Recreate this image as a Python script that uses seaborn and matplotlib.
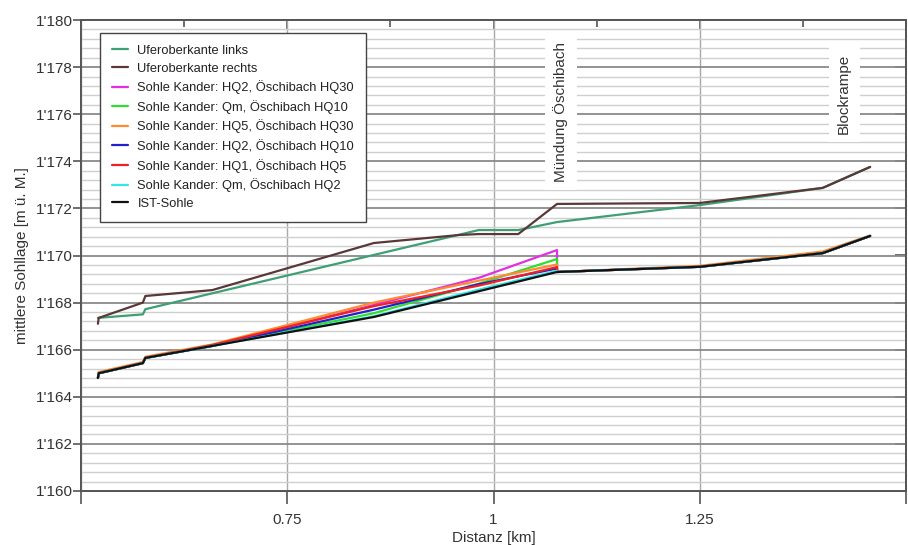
import numpy as np
import pandas as pd
import seaborn as sns
import matplotlib.pyplot as plt
from matplotlib.ticker import FuncFormatter, MultipleLocator, FixedLocator, FixedFormatter, NullFormatter

# Ufer (banks)
x_links = [0.5205, 0.575, 0.578, 0.982, 1.030, 1.077, 1.25, 1.399, 1.4565]
y_links = [1167.35, 1167.5, 1167.72, 1171.08, 1171.08, 1171.42, 1172.14, 1172.87, 1173.76]

x_rechts = [0.5205, 0.5215, 0.575, 0.578, 0.659, 0.855, 0.958, 0.982, 1.030, 1.077, 1.25, 1.399, 1.4565]
y_rechts = [1167.1, 1167.35, 1168.0, 1168.28, 1168.53, 1170.53, 1170.87, 1170.91, 1170.91, 1172.19, 1172.23, 1172.87, 1173.76]

# Sohle (bed), all scenarios on the same stations
x_sohle = [0.5205, 0.5215, 0.575, 0.578, 0.659, 0.855, 0.982, 1.077, 1.077, 1.25, 1.399, 1.4565]
y_hq2_hq30 = [1164.8, 1165.0, 1165.43, 1165.65, 1166.16, 1167.9, 1169.05, 1170.23, 1169.3, 1169.52, 1170.1, 1170.83]
y_qm_hq10 = [1164.8, 1165.0, 1165.43, 1165.65, 1166.16, 1167.55, 1168.8, 1169.85, 1169.3, 1169.52, 1170.1, 1170.83]
y_hq5_hq30 = [1164.85, 1165.05, 1165.48, 1165.7, 1166.22, 1168.0, 1168.93, 1169.62, 1169.3, 1169.56, 1170.17, 1170.85]
y_hq2_hq10 = [1164.8, 1165.0, 1165.43, 1165.65, 1166.16, 1167.7, 1168.78, 1169.45, 1169.3, 1169.52, 1170.1, 1170.83]
y_hq1_hq5 = [1164.8, 1165.0, 1165.43, 1165.65, 1166.2, 1167.85, 1168.72, 1169.51, 1169.3, 1169.52, 1170.1, 1170.83]
y_qm_hq2 = [1164.8, 1165.0, 1165.43, 1165.65, 1166.16, 1167.42, 1168.55, 1169.35, 1169.3, 1169.52, 1170.1, 1170.83]
y_ist = [1164.8, 1165.0, 1165.43, 1165.65, 1166.16, 1167.39, 1168.48, 1169.3, 1169.3, 1169.52, 1170.1, 1170.83]

labels = ["Uferoberkante links", "Uferoberkante rechts",
          "Sohle Kander: HQ2, Öschibach HQ30", "Sohle Kander: Qm, Öschibach HQ10",
          "Sohle Kander: HQ5, Öschibach HQ30", "Sohle Kander: HQ2, Öschibach HQ10",
          "Sohle Kander: HQ1, Öschibach HQ5", "Sohle Kander: Qm, Öschibach HQ2",
          "IST-Sohle"]
colors = ["#3f9f74", "#5a3838", "#e030e0", "#30dd30", "#ff8a30",
          "#2020d0", "#ee2222", "#30e8e8", "#111111"]

series = [(x_links, y_links), (x_rechts, y_rechts),
          (x_sohle, y_hq2_hq30), (x_sohle, y_qm_hq10), (x_sohle, y_hq5_hq30),
          (x_sohle, y_hq2_hq10), (x_sohle, y_hq1_hq5), (x_sohle, y_qm_hq2),
          (x_sohle, y_ist)]

frames = []
for lab, (xs, ys) in zip(labels, series):
    frames.append(pd.DataFrame({"km": xs, "z": ys, "serie": lab}))
df = pd.concat(frames, ignore_index=True)

sns.set_style("white")
plt.rcParams['font.family'] = ['Liberation Sans', 'DejaVu Sans']

fig = plt.figure(figsize=(9.08, 5.45), dpi=100)
ax = fig.add_axes([81/908, 54/545, 825/908, 471/545])

sns.lineplot(data=df, x="km", y="z", hue="serie", hue_order=labels,
             palette=dict(zip(labels, colors)), sort=False, estimator=None,
             linewidth=1.6, ax=ax, zorder=3)

ax.set_xlim(0.5, 1.5)
ax.set_ylim(1160, 1180)

# grid
ax.yaxis.set_major_locator(MultipleLocator(2))
ax.yaxis.set_minor_locator(MultipleLocator(0.4))
ax.xaxis.set_major_locator(FixedLocator([0.5, 0.75, 1.0, 1.25, 1.5]))
ax.xaxis.set_major_formatter(FixedFormatter(["", "0.75", "1", "1.25", ""]))
ax.yaxis.set_major_formatter(FuncFormatter(lambda v, p: f"{int(round(v)):,}".replace(",", "'")))
ax.grid(which="major", axis="y", color="#8a8a8a", linewidth=1.3)
ax.grid(which="minor", axis="y", color="#cfcfcf", linewidth=1.0)
ax.grid(which="major", axis="x", color="#a8a8a8", linewidth=1.0)
ax.set_axisbelow(True)

ax.tick_params(axis="x", which="major", direction="out", length=9, width=1.2, pad=7,
               color="#555555", labelsize=11, labelcolor="#333333")
ax.tick_params(axis="y", which="major", direction="out", length=6, width=1.2, pad=0,
               color="#555555", labelsize=11, labelcolor="#333333")
ax.tick_params(axis="y", which="minor", length=0)

# inward ticks on top and right, drawn underneath the main axes
axt = ax.twiny()
axt.set_xlim(ax.get_xlim())
axt.xaxis.set_major_locator(FixedLocator([0.75, 1.0, 1.25]))
axt.xaxis.set_minor_locator(FixedLocator([0.625, 0.875, 1.125, 1.375]))
axt.xaxis.set_major_formatter(NullFormatter())
axt.tick_params(which="major", direction="in", length=7, width=1.2, color="#555555")
axt.tick_params(which="minor", direction="in", length=5, width=1.2, color="#555555")
axt.grid(False)
axr = ax.twinx()
axr.set_ylim(ax.get_ylim())
axr.yaxis.set_major_locator(MultipleLocator(2))
axr.yaxis.set_major_formatter(NullFormatter())
axr.tick_params(which="major", direction="in", length=8, width=1.2, color="#555555")
axr.grid(False)
for a in (axt, axr):
    a.set_zorder(ax.get_zorder() - 1)
    a.patch.set_visible(False)
ax.patch.set_visible(False)
fig.patch.set_facecolor("white")

for a in (ax, axt, axr):
    for s in a.spines.values():
        s.set_color("#555555")
        s.set_linewidth(1.3)

ax.set_xlabel("Distanz [km]", fontsize=11, color="#333333", labelpad=3)
ax.set_ylabel("mittlere Sohllage [m ü. M.]", fontsize=11, color="#333333", labelpad=4.5)

box = dict(facecolor="white", edgecolor="none", pad=6)
ax.text(1.0815, 1176.1, "Mündung Öschibach", rotation=90, ha="center", va="center",
        fontsize=11, color="#333333", bbox=box, zorder=2)
ax.text(1.425, 1176.86, "Blockrampe", rotation=90, ha="center", va="center",
        fontsize=11, color="#333333", bbox=box, zorder=2)

leg = ax.legend(loc="upper left", bbox_to_anchor=(0.023, 0.972), borderaxespad=0,
                fontsize=9.3, handlelength=1.3, labelspacing=0.44, borderpad=0.9,
                handletextpad=0.7, frameon=True,
                fancybox=False, framealpha=1, edgecolor="#444444")
leg.get_frame().set_linewidth(1.0)
for t in leg.get_texts():
    t.set_color("#222222")

plt.savefig("out.png", dpi=100, facecolor="white")
